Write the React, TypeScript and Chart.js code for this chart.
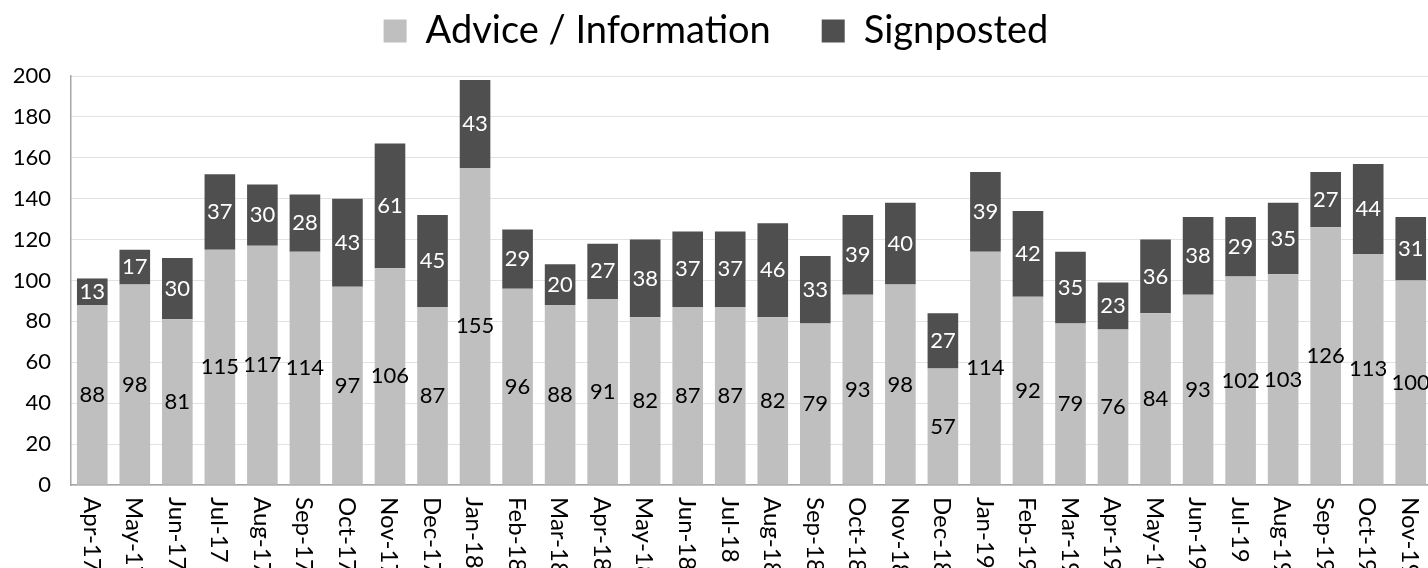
import React, { useEffect, useRef } from 'react';
import { Chart, registerables } from 'chart.js';

Chart.register(...registerables);

const months = [
  'Apr-17', 'May-17', 'Jun-17', 'Jul-17', 'Aug-17', 'Sep-17', 'Oct-17', 'Nov-17', 'Dec-17',
  'Jan-18', 'Feb-18', 'Mar-18', 'Apr-18', 'May-18', 'Jun-18', 'Jul-18', 'Aug-18', 'Sep-18',
  'Oct-18', 'Nov-18', 'Dec-18', 'Jan-19', 'Feb-19', 'Mar-19', 'Apr-19', 'May-19', 'Jun-19',
  'Jul-19', 'Aug-19', 'Sep-19', 'Oct-19', 'Nov-19',
];

const adviceInformation = [
  88, 98, 81, 115, 117, 114, 97, 106, 87,
  155, 96, 88, 91, 82, 87, 87, 82, 79,
  93, 98, 57, 114, 92, 79, 76, 84, 93,
  102, 103, 126, 113, 100,
];

const signposted = [
  13, 17, 30, 37, 30, 28, 43, 61, 45,
  43, 29, 20, 27, 38, 37, 37, 46, 33,
  39, 40, 27, 39, 42, 35, 23, 36, 38,
  29, 35, 27, 44, 31,
];

const seriesNames = ['Advice / Information', 'Signposted'];

const yMin = 0;
const yMax = 200;
const yStep = 20;

const FONT = "Lato, 'Noto Sans', sans-serif";
const LIGHT = '#bfbfbf';
const DARK = '#4f4f4f';

const barLabelsPlugin = {
  id: 'barLabels',
  afterDatasetsDraw(chart: any) {
    const ctx = chart.ctx;
    ctx.save();
    ctx.font = `22px ${FONT}`;
    ctx.textAlign = 'center';
    ctx.textBaseline = 'middle';
    chart.data.datasets.forEach((ds: any, di: number) => {
      const meta = chart.getDatasetMeta(di);
      ctx.fillStyle = di === 0 ? '#000000' : '#ffffff';
      meta.data.forEach((el: any, i: number) => {
        const { x, y, base } = el.getProps(['x', 'y', 'base'], true);
        ctx.fillText(String(ds.data[i]), x, (y + base) / 2);
      });
    });
    ctx.restore();
  },
};

const xLabelsPlugin = {
  id: 'xLabels',
  afterDraw(chart: any) {
    const ctx = chart.ctx;
    const xs = chart.scales.x;
    ctx.save();
    ctx.font = `24px ${FONT}`;
    ctx.fillStyle = '#000000';
    ctx.textAlign = 'left';
    ctx.textBaseline = 'middle';
    chart.data.labels.forEach((m: string, i: number) => {
      const x = xs.getPixelForTick(i);
      ctx.save();
      ctx.translate(x - 1, xs.top + 12);
      ctx.rotate(Math.PI / 2);
      ctx.fillText(m, 0, 0);
      ctx.restore();
    });
    ctx.restore();
  },
};

const legendSpacingPlugin = {
  id: 'legendSpacing',
  beforeLayout(chart: any) {
    const lg = chart.legend;
    if (lg && !lg.__spaced) {
      lg.__spaced = true;
      const origFit = lg.fit;
      lg.fit = function () {
        origFit.call(this);
        this.height += 16;
      };
    }
  },
};

export default function App() {
  const ref = useRef<HTMLCanvasElement | null>(null);

  useEffect(() => {
    if (!ref.current) return;
    const chart = new Chart(ref.current, {
      type: 'bar',
      data: {
        labels: months,
        datasets: [
          {
            label: seriesNames[0],
            data: adviceInformation,
            backgroundColor: LIGHT,
            borderWidth: 0,
            categoryPercentage: 1,
            barPercentage: 0.72,
          },
          {
            label: seriesNames[1],
            data: signposted,
            backgroundColor: DARK,
            borderWidth: 0,
            categoryPercentage: 1,
            barPercentage: 0.72,
          },
        ],
      },
      options: {
        responsive: false,
        animation: false,
        devicePixelRatio: 1,
        layout: { padding: 0 },
        plugins: {
          tooltip: { enabled: false },
          legend: {
            display: true,
            position: 'top',
            align: 'center',
            labels: {
              color: '#000000',
              font: { family: FONT, size: 38 },
              boxWidth: 23,
              boxHeight: 23,
              padding: 12,
              generateLabels(chart: any) {
                const items = Chart.defaults.plugins.legend.labels.generateLabels(chart);
                items.forEach((it: any, i: number) => {
                  if (i === 0) it.text = it.text + '    ';
                });
                return items;
              },
            },
          },
        },
        scales: {
          x: {
            stacked: true,
            grid: { display: false, drawTicks: false },
            border: { display: true, color: '#a6a6a6', width: 1.5 },
            ticks: { display: false },
            afterFit(scale: any) {
              scale.height = 83;
            },
          },
          y: {
            stacked: true,
            min: yMin,
            max: yMax,
            ticks: {
              stepSize: yStep,
              color: '#000000',
              font: { family: FONT, size: 22 },
              padding: 20,
            },
            grid: { color: '#c4c4c4', lineWidth: 1, drawTicks: false },
            border: { display: true, color: '#a6a6a6', width: 1.5, dash: [1, 1] },
            afterFit(scale: any) {
              scale.width = 71;
            },
          },
        },
      },
      plugins: [barLabelsPlugin, xLabelsPlugin, legendSpacingPlugin],
    });
    return () => chart.destroy();
  }, []);

  return (
    <div
      style={{
        position: 'fixed',
        left: 0,
        top: 0,
        width: 1428,
        height: 568,
        overflow: 'hidden',
        background: '#ffffff',
      }}
    >
      <canvas ref={ref} width={1432} height={568} style={{ display: 'block' }} />
    </div>
  );
}
